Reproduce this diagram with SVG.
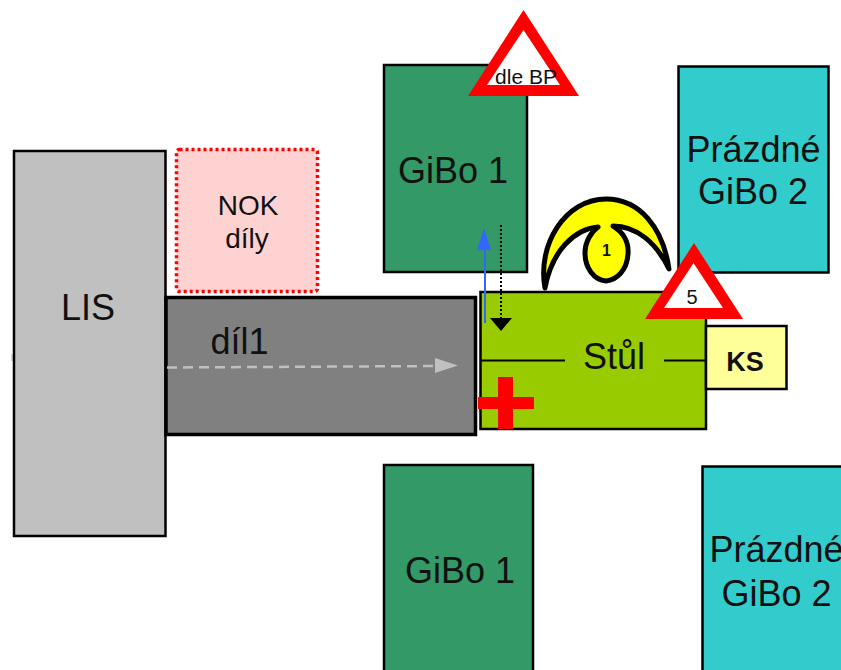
<svg xmlns="http://www.w3.org/2000/svg" width="841" height="670" viewBox="0 0 841 670">
<style>
text{font-family:"Liberation Sans",Arial,sans-serif;fill:#111;text-anchor:middle}
.b{stroke:#000;stroke-width:2.500}
.g{fill:#339966}
.c{fill:#33cccc}
.t{font-size:36px}
</style>
<rect width="841" height="670" fill="#fff"/>
<g id="gibo1-top"><rect class="b g" x="384" y="65" width="143" height="207"/><text class="t" x="453" y="183">GiBo 1</text></g>
<g id="gibo2-top"><rect class="b c" x="678.500" y="66.500" width="150" height="206"/><text class="t" x="753.500" y="162">Prázdné</text><text class="t" x="753" y="204">GiBo 2</text></g>
<g id="gibo1-bottom"><rect class="b g" x="384" y="465" width="149" height="210"/><text class="t" x="460" y="583">GiBo 1</text></g>
<g id="gibo2-bottom"><rect class="b c" x="702.500" y="466.500" width="145" height="210"/><text class="t" x="776.500" y="562">Prázdné</text><text class="t" x="776.500" y="606">GiBo 2</text></g>
<path d="M12 354V361" stroke="#8fb0d0" stroke-width="1"/>
<g id="lis"><rect class="b" x="14" y="151" width="151.500" height="385" fill="#c0c0c0"/><text class="t" x="88" y="320">LIS</text></g>
<g id="nok"><rect x="176.500" y="149.500" width="141" height="142" rx="3" fill="#ffd2d2" stroke="#f00" stroke-width="3.500" stroke-dasharray="3 3"/><text x="248" y="215" font-size="28">NOK</text><text x="247" y="248" font-size="28">díly</text></g>
<g id="dil1"><rect x="166" y="297.500" width="309.500" height="137" fill="#808080" stroke="#000" stroke-width="3.500"/><text class="t" x="239.500" y="354">díl1</text></g>
<g id="stul"><rect class="b" x="480.500" y="292" width="225.500" height="137" fill="#99cc00"/><text class="t" x="614" y="369">Stůl</text></g>
<g id="ks"><rect class="b" x="706" y="326" width="80.500" height="63" fill="#ffff99"/><text x="745" y="371" font-size="27" font-weight="bold">KS</text></g>
<g id="connectors" fill="none">
<path d="M480 360.500H565M664 360.500H706" stroke="#000" stroke-width="2"/>
<path d="M167 367.500L440 366" stroke="#c0c0c0" stroke-width="2.500" stroke-dasharray="10 6"/>
<path d="M435 358L458 365.500L435 373Z" fill="#c0c0c0"/>
<path d="M485 323V245" stroke="#3366ff" stroke-width="2"/>
<path d="M484 228L491 250H477Z" fill="#3366ff"/>
<path d="M501 225V318" stroke="#000" stroke-width="2" stroke-dasharray="2 2"/>
<path d="M490 318H512L501 331Z" fill="#000"/>
</g>
<g id="cross"><path d="M498 377H513V397H534V409H513V429H498V409H478V397H498Z" fill="#f00"/></g>
<g id="moon"><path d="M545 288C537 245 565 199 606 199C640 199 663 228 669 269C656 242 636 226 613 226C623 232 629 242 628 254C627 270 617 280 606 281C594 280 585 268 585 253C585 242 591 232 598 227C575 229 552 250 545 288Z" fill="#ffff00" stroke="#000" stroke-width="5" stroke-linejoin="round"/><text x="606.500" y="256" font-size="16" font-weight="bold">1</text></g>
<g id="warn-bp"><path d="M523.500 10L468 96H579Z" fill="#f00"/><path d="M523.500 30L487 85H560Z" fill="#fff"/><text x="526" y="84" font-size="21">dle BP</text></g>
<g id="warn-5"><path d="M694 243L645 319H743Z" fill="#f00"/><path d="M693.500 263L664 308H723Z" fill="#fff"/><text x="692" y="304" font-size="20">5</text></g>
</svg>
